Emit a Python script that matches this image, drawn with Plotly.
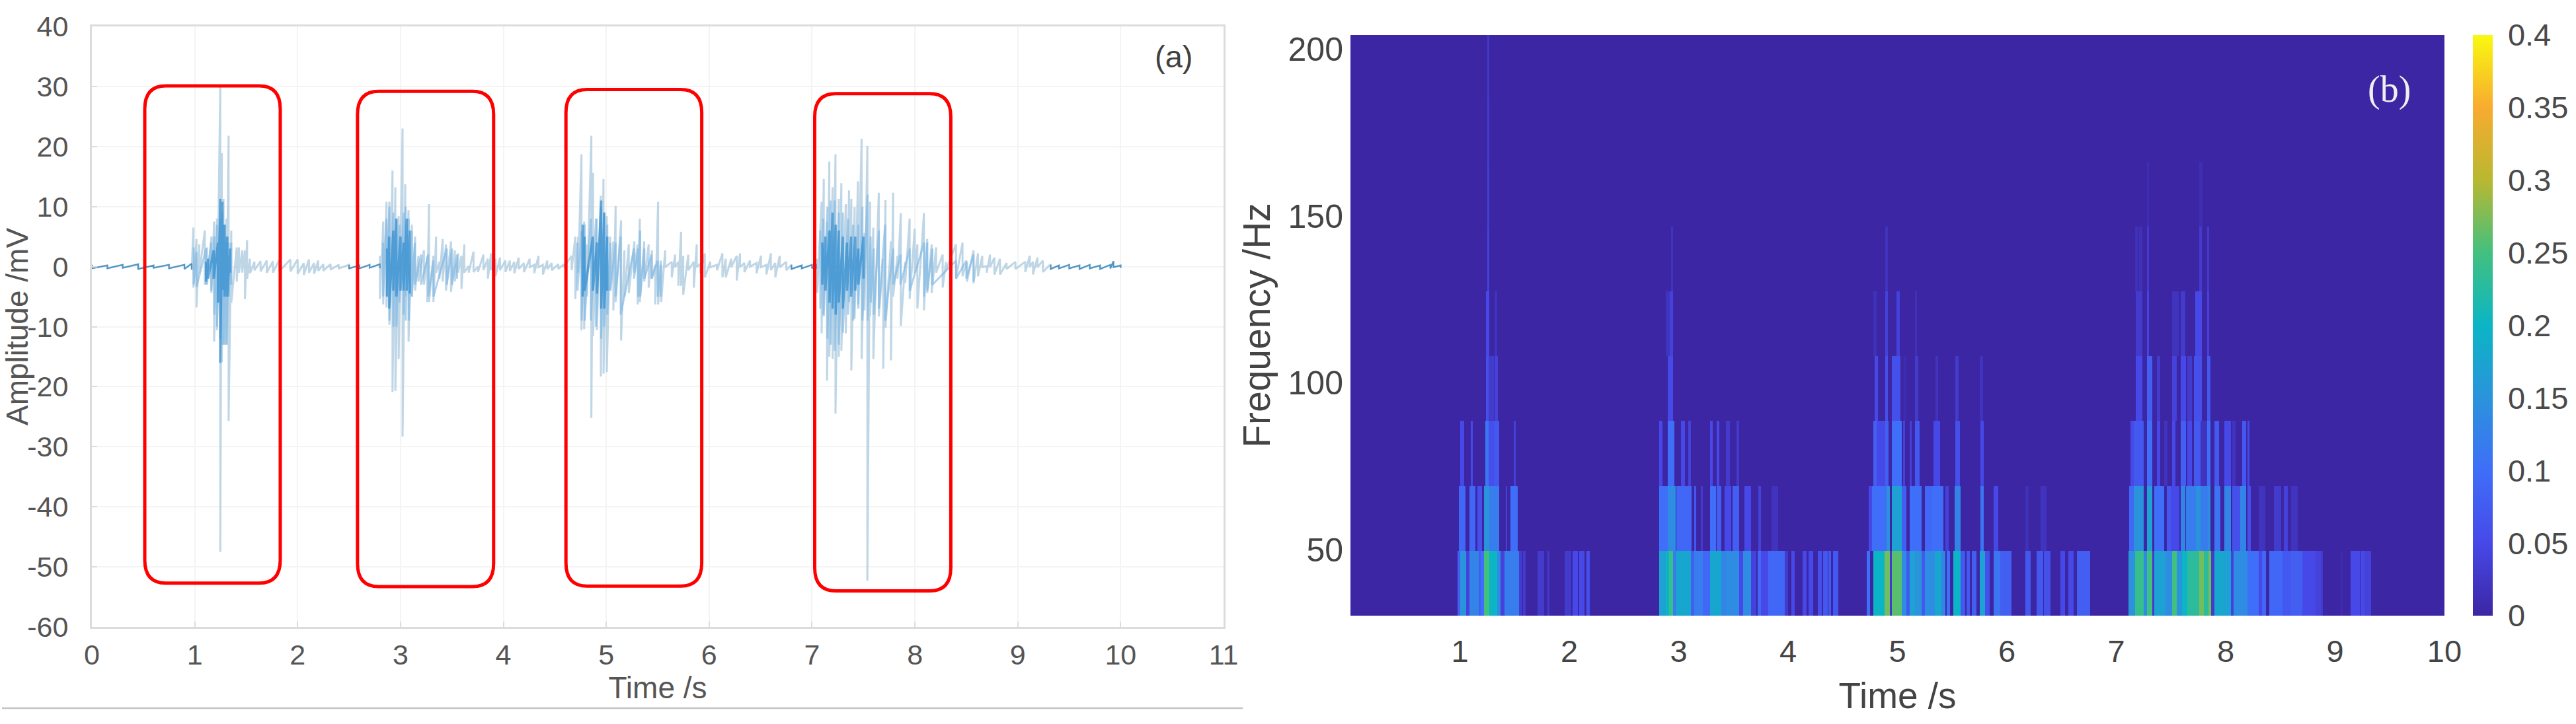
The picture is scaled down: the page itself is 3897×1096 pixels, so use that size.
import numpy as np
import plotly.graph_objects as go
from plotly.subplots import make_subplots

W = 3897
H = 1096

# ---- panel (a), waveform: (time s, upper mV, lower mV)
quiet_start = [(0.0, 0.3, -0.3), (0.15, 0.2, -0.3), (0.3, 0.3, -0.2), (0.45, 0.4, -0.4), (0.6, 0.2, -0.2),
               (0.75, 0.3, -0.3), (0.9, 0.3, -0.4), (0.97, 0.5, -0.5)]
quiet_mid1 = [(2.5, 0.3, -0.3), (2.6, 0.2, -0.3), (2.7, 0.3, -0.2), (2.8, 0.4, -0.3)]
quiet_mid2 = [(6.8, 0.3, -0.4), (6.9, 0.2, -0.3), (7.0, 0.3, -0.3), (7.04, 0.4, -0.4)]
quiet_end = [(9.32, 0.3, -0.4), (9.4, 0.2, -0.3), (9.5, 0.3, -0.3), (9.6, 0.2, -0.4), (9.7, 0.3, -0.3),
             (9.8, 0.2, -0.4), (9.9, 0.3, -0.3), (9.93, 0.9, -0.1), (10.0, 0.2, -0.2)]

wave_a = [
    (0.987, 6.5, -3.5), (1.017, 4.6, -6.8), (1.044, 3.7, -1.1), (1.098, 6.0, -3.0), (1.119, 3.2, -3.0),
    (1.162, 5.0, -4.4), (1.188, 7.5, -12.5), (1.216, 8.0, -10.6), (1.248, 30.0, -47.5), (1.263, 18.9, -15.9),
    (1.28, 11.3, -13.0), (1.308, 8.0, -13.0), (1.329, 21.8, -25.7), (1.355, 6.0, -6.0), (1.408, 3.2, -2.5),
    (1.43, 3.2, -1.0), (1.462, 2.7, -1.0), (1.488, 2.7, -5.4), (1.509, 4.4, -2.0), (1.537, 1.3, -1.1),
    (1.58, 0.8, -0.6), (1.64, 0.9, -0.8), (1.7, 1.0, -1.0), (1.76, 0.9, -1.0), (1.82, 1.1, -0.8),
    (1.93, 1.2, -0.8), (2.0, 1.2, -1.2), (2.06, 0.6, -1.4), (2.11, 1.2, -1.0), (2.16, 0.6, -1.2),
    (2.2, 1.0, -0.7), (2.25, 0.4, -0.7), (2.32, 0.4, -0.5), (2.4, 0.3, -0.3),
]
wave_b = [
    (2.8, 1.8, -5.4), (2.832, 7.5, -6.3), (2.864, 10.8, -6.8), (2.892, 10.8, -9.7), (2.922, 16.0, -20.9),
    (2.95, 13.2, -20.7), (2.982, 8.4, -15.4), (3.02, 23.0, -28.3), (3.046, 13.7, -5.0), (3.078, 9.4, -12.5),
    (3.11, 7.0, -5.0), (3.142, 5.0, -4.0), (3.174, 1.8, -2.5), (3.228, 2.7, -3.0), (3.26, 1.8, -5.9),
    (3.277, 10.4, -5.9), (3.32, 1.8, -5.9), (3.346, 5.0, -1.0), (3.378, 0.8, -2.0), (3.41, 4.6, -2.5),
    (3.442, 3.7, -4.0), (3.491, 4.2, -4.2), (3.528, 2.7, -2.5), (3.56, 2.2, -1.0), (3.592, 1.8, -3.7),
    (3.62, 3.7, -1.0), (3.663, 0.1, -1.0), (3.71, 2.5, -0.9), (3.753, 0.0, -0.9), (3.806, 2.0, -0.6),
    (3.849, 1.3, -2.0), (3.88, 2.2, -0.6), (3.924, 1.3, -1.6), (3.967, 1.5, -0.6), (4.02, 1.0, -0.9),
    (4.063, 1.0, -0.7), (4.106, 0.8, -1.1), (4.149, 1.5, -0.4), (4.2, 0.6, -0.9), (4.256, 1.3, -0.1),
    (4.3, 0.3, -1.1), (4.341, 1.8, -0.1), (4.384, 0.3, -1.3), (4.427, 1.0, -0.4), (4.47, 0.6, -0.6),
    (4.534, 0.4, -0.4), (4.588, 0.4, -0.1),
]
wave_c = [
    (4.663, 1.8, -0.6), (4.699, 5.0, -5.4), (4.727, 5.0, -1.0), (4.759, 18.7, -10.6), (4.785, 7.5, -10.4),
    (4.812, 3.7, -5.0), (4.855, 21.8, -25.2), (4.872, 15.6, -11.6), (4.909, 8.0, -10.6), (4.947, 11.8, -18.3),
    (4.973, 14.6, -17.8), (5.005, 8.4, -17.6), (5.037, 5.0, -4.0), (5.069, 4.2, -7.3), (5.091, 10.1, -5.9),
    (5.144, 7.7, -12.3), (5.176, 2.7, -5.0), (5.219, 3.7, -4.4), (5.273, 4.2, -1.0), (5.305, 3.7, -6.3),
    (5.326, 8.0, -5.9), (5.369, 4.2, -2.5), (5.412, 3.7, -3.5), (5.444, 2.7, -2.0), (5.476, 0.3, -6.3),
    (5.504, 10.8, -6.3), (5.534, 0.3, -5.9), (5.572, 2.7, -0.1), (5.637, 0.8, -1.8), (5.669, 2.0, -0.1),
    (5.701, 0.8, -3.2), (5.727, 5.8, -3.2), (5.748, 1.8, -4.7), (5.797, 2.0, -0.6), (5.851, 0.8, -3.5),
    (5.879, 3.7, -0.1), (5.915, 0.5, -1.1), (5.958, 2.2, -1.8), (6.011, 0.8, -0.1), (6.076, 0.3, -0.6),
    (6.129, 2.2, -1.8), (6.161, 1.3, -1.8), (6.215, 1.3, -0.1), (6.268, 1.8, -2.3), (6.3, 2.2, -0.1),
    (6.343, 0.6, -0.9), (6.397, 1.0, 0.0), (6.461, 0.6, -1.1), (6.504, 1.8, -0.1), (6.557, 0.3, -1.3),
    (6.6, 2.2, -0.6), (6.643, 0.6, -1.8), (6.686, 1.8, -0.1), (6.75, 0.8, -0.6),
]
wave_d = [
    (7.05, 1.3, -4.4), (7.093, 10.8, -11.1), (7.114, 14.6, -8.3), (7.146, 7.5, -19.0), (7.168, 17.5, -15.0),
    (7.2, 13.2, -15.4), (7.228, 18.7, -24.5), (7.26, 11.3, -15.0), (7.285, 13.9, -14.0), (7.328, 10.4, -11.1),
    (7.36, 12.7, -5.9), (7.382, 11.3, -17.3), (7.414, 9.9, -8.7), (7.446, 14.2, -6.3), (7.482, 21.3, -15.4),
    (7.51, 5.6, -7.3), (7.538, 20.1, -52.3), (7.564, 10.8, -8.3), (7.596, 6.5, -15.4), (7.649, 12.3, -8.3),
    (7.692, 1.3, -17.0), (7.714, 11.1, -10.2), (7.767, 4.2, -15.6), (7.788, 12.3, -5.0), (7.831, 1.8, -2.0),
    (7.863, 8.9, -9.9), (7.906, 0.8, -2.7), (7.949, 8.0, -5.4), (7.998, 6.3, -1.0), (8.024, 3.7, -7.0),
    (8.088, 8.9, -7.3), (8.12, 4.6, -4.4), (8.163, 3.7, -4.4), (8.206, 3.2, -1.0), (8.27, 2.0, -3.5),
    (8.302, 0.8, -0.6), (8.399, 3.7, -2.0), (8.463, 4.0, -1.6), (8.506, 0.8, -2.5), (8.57, 2.7, -2.8),
    (8.613, 2.2, -1.6), (8.655, 1.8, -0.1), (8.698, 0.1, -1.0), (8.73, 2.0, -0.1), (8.773, 1.5, -1.3),
    (8.827, 1.3, -1.3), (8.891, 0.6, -0.4), (8.977, 0.8, -0.4), (9.073, 0.8, -0.9), (9.116, 1.8, -0.1),
    (9.148, 0.8, -1.3), (9.191, 1.5, -0.1), (9.244, 1.0, -0.9), (9.319, 0.4, -0.3),
]

# the mid blue part of each burst
mid_a = [(0.99, 3.2, -3.0), (1.017, 2.5, -3.4), (1.11, 3.0, -3.0), (1.16, 4.0, -4.0), (1.19, 5.0, -8.0),
         (1.216, 7.0, -10.0), (1.248, 8.0, -12.0), (1.27, 9.0, -13.0), (1.29, 7.0, -13.0), (1.31, 5.0, -13.0),
         (1.33, 4.0, -5.0), (1.355, 4.0, -3.0)]
mid_b = [(2.83, 4.0, -5.0), (2.864, 8.0, -5.0), (2.892, 10.0, -9.0), (2.93, 9.0, -10.0), (2.96, 8.0, -10.0),
         (2.99, 7.0, -6.0), (3.03, 9.0, -8.0), (3.05, 10.0, -9.0), (3.08, 8.0, -9.0), (3.11, 6.0, -5.0),
         (3.14, 4.0, -3.0), (3.2, 2.0, -3.0), (3.27, 2.0, -5.0), (3.32, 1.0, -5.0), (3.45, 3.0, -3.0),
         (3.5, 3.0, -3.0), (3.55, 2.0, -2.0)]
mid_c = [(4.72, 4.0, -4.0), (4.76, 6.0, -9.0), (4.79, 7.0, -9.0), (4.85, 8.0, -9.0), (4.9, 8.0, -10.0),
         (4.95, 10.0, -12.0), (4.98, 9.0, -10.0), (5.01, 7.0, -8.0), (5.04, 4.0, -4.0), (5.09, 4.0, -5.0),
         (5.14, 5.0, -8.0), (5.27, 3.0, -2.0), (5.31, 3.0, -5.0), (5.33, 6.0, -5.0), (5.37, 3.0, -2.0),
         (5.44, 2.0, -2.0), (5.5, 1.0, -5.0), (5.53, 1.0, -5.0)]
mid_d = [(7.08, 6.0, -7.0), (7.11, 8.0, -8.0), (7.15, 10.0, -12.0), (7.18, 11.0, -13.0), (7.22, 11.0, -14.0),
         (7.26, 9.0, -13.0), (7.3, 9.0, -11.0), (7.35, 8.0, -8.0), (7.4, 7.0, -9.0), (7.45, 7.0, -7.0),
         (7.49, 10.0, -9.0), (7.54, 12.0, -9.0), (7.57, 5.0, -6.0), (7.6, 3.0, -8.0), (7.65, 6.0, -7.0),
         (7.71, 7.0, -9.0), (7.79, 3.0, -3.0), (7.86, 2.0, -3.0), (7.95, 3.0, -4.0), (8.09, 4.0, -5.0),
         (8.12, 4.0, -4.0), (8.17, 3.0, -3.0), (8.4, 1.0, -2.0), (8.5, 1.0, -2.0), (8.57, 2.0, -2.5)]

# darkest part of each burst
core_a = [(1.109, 0.8, -2.5), (1.13, 1.3, -2.0), (1.184, 2.7, -2.0), (1.226, 4.0, -6.0), (1.248, 11.3, -16.0),
          (1.269, 10.8, -3.9), (1.29, 7.0, -5.0), (1.316, 5.0, -5.0), (1.344, 3.0, -1.0)]
core_b = [(2.87, 3.0, -5.0), (2.89, 5.0, -7.0), (2.93, 6.0, -4.0), (2.96, 8.0, -5.0), (3.0, 5.0, -4.0),
          (3.03, 4.0, -4.0), (3.06, 8.0, -4.0), (3.09, 6.0, -4.5)]
core_c = [(4.77, 7.0, -5.0), (4.79, 5.0, -4.0), (4.87, 5.0, -4.0), (4.91, 4.0, -4.5), (4.95, 11.0, -7.0),
          (4.98, 9.0, -7.0), (5.01, 5.0, -4.0)]
core_d = [(7.1, 4.0, -3.0), (7.13, 5.0, -4.0), (7.17, 6.0, -6.0), (7.2, 9.0, -7.0), (7.23, 7.0, -8.0),
          (7.26, 6.0, -6.0), (7.3, 5.0, -7.0), (7.34, 4.0, -4.0), (7.38, 5.0, -5.0), (7.42, 5.0, -4.0),
          (7.45, 3.0, -3.0), (7.5, 5.0, -2.0)]

# red boxes: t0, t1, upper mV, lower mV
boxes = [(0.514, 1.831, 30.1, -52.7), (2.582, 3.905, 29.2, -53.3),
         (4.608, 5.928, 29.5, -53.2), (7.026, 8.349, 28.8, -54.0)]

# ---- panel (b), spectrogram: (t0, t1, power) per frequency row, lowest row first
freq_edges = [30.2, 49.65, 69.1, 88.55, 108.0, 127.45, 146.9, 166.35, 185.8, 204.3]

row0 = [
    (0.98, 1.0, .08), (1.0, 1.06, .15), (1.06, 1.09, .04), (1.09, 1.17, .13), (1.17, 1.19, .08), (1.19, 1.22, .1),
    (1.22, 1.27, .25), (1.27, 1.34, .2), (1.34, 1.37, .14), (1.37, 1.41, .04), (1.41, 1.54, .12), (1.54, 1.57, .03),
    (1.58, 1.6, .03), (1.71, 1.77, .03), (1.8, 1.82, .03), (1.96, 2.02, .03), (2.03, 2.08, .05), (2.09, 2.14, .05),
    (2.16, 2.19, .06),
    (2.82, 2.88, .17), (2.88, 2.91, .2), (2.91, 2.95, .24), (2.95, 2.98, .12), (2.98, 3.11, .18), (3.11, 3.14, .08),
    (3.14, 3.22, .12), (3.22, 3.29, .09), (3.29, 3.39, .18), (3.39, 3.43, .13), (3.43, 3.55, .14), (3.55, 3.59, .05),
    (3.59, 3.66, .14), (3.66, 3.71, .04), (3.72, 3.75, .09), (3.75, 3.82, .05), (3.82, 3.97, .09), (3.97, 4.0, .03),
    (4.03, 4.06, .05), (4.13, 4.17, .05), (4.19, 4.23, .05), (4.27, 4.31, .06), (4.32, 4.36, .07), (4.37, 4.39, .07),
    (4.41, 4.46, .07),
    (4.72, 4.75, .1), (4.78, 4.88, .2), (4.88, 4.93, .27), (4.93, 4.95, .03), (4.95, 5.04, .26), (5.04, 5.08, .14),
    (5.08, 5.11, .07), (5.11, 5.16, .17), (5.16, 5.22, .15), (5.22, 5.25, .07), (5.25, 5.34, .14), (5.34, 5.4, .18),
    (5.4, 5.44, .13), (5.45, 5.48, .1), (5.51, 5.58, .2), (5.58, 5.62, .07), (5.63, 5.66, .07), (5.68, 5.72, .08),
    (5.75, 5.8, .17), (5.8, 5.84, .06), (5.88, 5.94, .11), (5.94, 6.04, .08), (6.17, 6.22, .07), (6.27, 6.33, .07),
    (6.34, 6.4, .06), (6.49, 6.53, .05), (6.56, 6.61, .05), (6.64, 6.76, .08),
    (7.11, 7.17, .15), (7.17, 7.25, .24), (7.25, 7.28, .14), (7.28, 7.33, .25), (7.33, 7.35, .03), (7.35, 7.45, .17),
    (7.45, 7.51, .14), (7.51, 7.55, .25), (7.55, 7.6, .15), (7.6, 7.65, .2), (7.65, 7.76, .23), (7.76, 7.8, .27),
    (7.8, 7.84, .23), (7.84, 7.87, .27), (7.87, 7.9, .03), (7.9, 7.98, .18), (7.98, 8.05, .17), (8.05, 8.07, .04),
    (8.07, 8.2, .14), (8.2, 8.3, .1), (8.3, 8.33, .05), (8.33, 8.37, .09), (8.4, 8.52, .09), (8.52, 8.6, .07),
    (8.6, 8.7, .08), (8.7, 8.82, .05), (8.82, 8.87, .04), (8.87, 8.89, .03), (9.05, 9.07, .01), (9.14, 9.23, .05),
    (9.24, 9.27, .05), (9.27, 9.33, .04),
]
row1 = [
    (.99, 1.05, .09), (1.09, 1.14, .09), (1.16, 1.2, .06), (1.22, 1.27, .15), (1.27, 1.36, .12), (1.42, 1.43, .04),
    (1.46, 1.53, .1),
    (2.82, 2.9, .1), (2.9, 2.97, .14), (2.98, 3.12, .09), (3.14, 3.16, .07), (3.2, 3.22, .03), (3.29, 3.34, .1),
    (3.35, 3.39, .08), (3.42, 3.48, .05), (3.49, 3.55, .08), (3.6, 3.66, .05), (3.73, 3.75, .04), (3.85, 3.91, .02),
    (4.74, 4.77, .05), (4.77, 4.9, .1), (4.9, 4.93, .15), (4.95, 5.04, .17), (5.04, 5.08, .08), (5.11, 5.16, .1),
    (5.16, 5.22, .1), (5.25, 5.32, .09), (5.32, 5.42, .1), (5.44, 5.47, .04), (5.52, 5.58, .13), (5.76, 5.79, .11),
    (5.88, 5.92, .05), (6.17, 6.2, .015), (6.31, 6.36, .02),
    (7.12, 7.16, .09), (7.16, 7.25, .15), (7.28, 7.33, .17), (7.35, 7.44, .1), (7.46, 7.5, .07), (7.5, 7.58, .05),
    (7.59, 7.63, .13), (7.64, 7.73, .12), (7.73, 7.77, .15), (7.77, 7.84, .12), (7.84, 7.86, .15), (7.9, 7.95, .11),
    (7.99, 8.05, .13), (8.06, 8.13, .06), (8.13, 8.19, .13), (8.2, 8.23, .06), (8.3, 8.36, .02), (8.44, 8.51, .03),
    (8.53, 8.57, .04), (8.6, 8.66, .02),
]
row2 = [
    (1.0, 1.04, .05), (1.1, 1.12, .05), (1.23, 1.26, .11), (1.26, 1.31, .06), (1.31, 1.36, .07), (1.49, 1.51, .04),
    (2.82, 2.85, .05), (2.9, 2.96, .1), (3.02, 3.06, .05), (3.09, 3.11, .04), (3.29, 3.31, .05), (3.35, 3.37, .05),
    (3.43, 3.47, .03), (3.53, 3.55, .03),
    (4.78, 4.81, .08), (4.81, 4.89, .05), (4.89, 4.92, .08), (4.95, 5.04, .1), (5.05, 5.07, .04), (5.11, 5.13, .04),
    (5.16, 5.2, .07), (5.33, 5.39, .05), (5.53, 5.57, .06), (5.76, 5.79, .05),
    (7.13, 7.16, .05), (7.16, 7.25, .07), (7.28, 7.33, .1), (7.37, 7.4, .05), (7.44, 7.47, .02), (7.51, 7.54, .05),
    (7.59, 7.64, .08), (7.65, 7.69, .05), (7.71, 7.77, .07), (7.77, 7.83, .02), (7.83, 7.86, .1), (7.9, 7.94, .07),
    (7.99, 8.05, .05), (8.06, 8.09, .02), (8.15, 8.19, .07), (8.2, 8.22, .05),
]
row3 = [
    (1.24, 1.26, .06), (1.26, 1.31, .03), (1.32, 1.35, .04), (2.9, 2.95, .05),
    (4.79, 4.82, .05), (4.89, 4.91, .06), (4.95, 5.03, .06), (5.06, 5.08, .01), (5.16, 5.19, .03), (5.35, 5.37, .02),
    (5.53, 5.56, .03), (5.75, 5.78, .02),
    (7.18, 7.24, .05), (7.28, 7.33, .08), (7.37, 7.4, .03), (7.51, 7.55, .04), (7.59, 7.64, .05), (7.65, 7.69, .03),
    (7.71, 7.78, .06), (7.83, 7.86, .07),
]
row4 = [
    (1.24, 1.27, .05), (1.32, 1.34, .02), (2.88, 2.92, .02), (2.92, 2.95, .04),
    (4.78, 4.81, .015), (4.89, 4.91, .04), (4.99, 5.02, .04), (5.16, 5.18, .015),
    (7.18, 7.24, .03), (7.28, 7.3, .045), (7.51, 7.57, .02), (7.59, 7.63, .03), (7.72, 7.78, .05), (7.83, 7.85, .04),
]
row5 = [
    (1.25, 1.27, .04), (2.93, 2.95, .02), (4.89, 4.91, .02),
    (7.17, 7.2, .015), (7.21, 7.24, .015), (7.28, 7.3, .03), (7.76, 7.78, .03), (7.83, 7.85, .03),
]
row6 = [(1.25, 1.27, .035), (7.28, 7.3, .012), (7.76, 7.79, .012)]
row7 = [(1.25, 1.27, .03)]
row8 = [(1.25, 1.27, .025)]
spec_rows = [row0, row1, row2, row3, row4, row5, row6, row7, row8]

parula = [[0.0, "#3c26a3"], [0.125, "#4649e8"], [0.25, "#3f6ef8"], [0.375, "#2a93dc"], [0.5, "#0bb5c5"],
          [0.625, "#42c07f"], [0.75, "#b9b830"], [0.875, "#f8ab30"], [1.0, "#f9f90f"]]


def zigzag(*parts):
    xs, ys = [], []
    for part in parts:
        for t, hi, lo in part:
            xs += [t, t]
            ys += [hi, lo]
        xs.append(None)
        ys.append(None)
    return xs, ys


t_edges = np.arange(0, 1001) / 100
z = np.zeros((len(spec_rows), 1000))
for i, row in enumerate(spec_rows):
    for t0, t1, val in row:
        z[i, round(t0 * 100):round(t1 * 100)] = val

fig = make_subplots(rows=1, cols=2)

xs, ys = zigzag(quiet_start + wave_a + quiet_mid1 + wave_b + wave_c + quiet_mid2 + wave_d + quiet_end)
fig.add_trace(go.Scatter(x=xs, y=ys, mode="lines", line=dict(color="rgba(170,200,222,0.75)", width=3)), row=1, col=1)
xs, ys = zigzag(mid_a, mid_b, mid_c, mid_d)
fig.add_trace(go.Scatter(x=xs, y=ys, mode="lines", line=dict(color="rgba(120,180,228,0.6)", width=3)), row=1, col=1)
xs, ys = zigzag(core_a, core_b, core_c, core_d)
fig.add_trace(go.Scatter(x=xs, y=ys, mode="lines", line=dict(color="rgba(40,135,205,0.65)", width=3.5)), row=1, col=1)
xs, ys = zigzag(quiet_start, quiet_mid1, quiet_mid2, quiet_end)
fig.add_trace(go.Scatter(x=xs, y=ys, mode="lines", line=dict(color="#4d93c4", width=2)), row=1, col=1)

fig.add_trace(go.Heatmap(
    x=t_edges, y=freq_edges, z=z, zmin=0, zmax=0.4, colorscale=parula,
    colorbar=dict(
        x=3741 / W, xanchor="left", y=1 - 932 / H, yanchor="bottom", len=879 / H, thickness=30,
        outlinewidth=0, xpad=0, ypad=0, tickmode="array",
        tickvals=[0, 0.05, 0.1, 0.15, 0.2, 0.25, 0.3, 0.35, 0.4],
        ticktext=["0", "0.05", "0.1", "0.15", "0.2", "0.25", "0.3", "0.35", "0.4"],
        ticks="outside", ticklen=14, tickcolor="rgba(0,0,0,0)",
        tickfont=dict(family="Liberation Sans", size=47, color="#4a4a4a"),
    ),
), row=1, col=2)

grey = "#555555"
a_font = dict(family="Liberation Sans", size=43, color=grey)
fig.update_xaxes(
    domain=[139 / W, 1851 / W], range=[0, 11], tickmode="array", tickvals=list(range(12)), automargin=False,
    showgrid=True, gridcolor="#f4f4f4", gridwidth=2, zeroline=False, showline=True, mirror=True,
    linecolor="#dcdcdc", linewidth=3, ticks="inside", ticklen=8, tickcolor="#dcdcdc", tickwidth=2,
    tickfont=a_font, ticklabelstandoff=2,
    title=dict(text="Time /s", font=dict(family="Liberation Sans", size=46, color=grey), standoff=2),
    row=1, col=1,
)
fig.update_yaxes(
    domain=[1 - 949 / H, 1 - 40 / H], range=[-60, 40], tickmode="array", tickvals=list(range(-60, 41, 10)),
    ticktext=[str(v) for v in range(-60, 41, 10)], automargin=False,
    showgrid=True, gridcolor="#f4f4f4", gridwidth=2, zeroline=False, showline=True, mirror=True,
    linecolor="#dcdcdc", linewidth=3, ticks="inside", ticklen=8, tickcolor="#dcdcdc", tickwidth=2,
    tickfont=a_font, ticklabelstandoff=24,
    title=dict(text="Amplitude /mV", font=dict(family="Liberation Sans", size=46, color=grey), standoff=0),
    row=1, col=1,
)
fig.update_xaxes(
    domain=[2043 / W, 3698 / W], range=[0, 10], tickmode="array", tickvals=list(range(1, 11)), automargin=False,
    showgrid=False, zeroline=False, ticks="", showline=False,
    tickfont=dict(family="Liberation Sans", size=47, color="#444444"), ticklabelstandoff=22,
    title=dict(text="Time /s", font=dict(family="Liberation Sans", size=55, color="#444444"), standoff=22),
    row=1, col=2,
)
fig.update_yaxes(
    domain=[1 - 932 / H, 1 - 53 / H], range=[30.2, 204.3], tickmode="array", tickvals=[50, 100, 150, 200],
    automargin=False, showgrid=False, zeroline=False, ticks="", showline=False,
    tickfont=dict(family="Liberation Sans", size=50, color="#444444"), ticklabelstandoff=10,
    title=dict(text="Frequency /Hz", font=dict(family="Liberation Sans", size=57, color="#444444"), standoff=8),
    row=1, col=2,
)

# rounded red boxes
rx, ry = 0.205, 3.85
for t0, t1, top, bottom in boxes:
    path = (f"M {t0 + rx} {top} L {t1 - rx} {top} Q {t1} {top} {t1} {top - ry} "
            f"L {t1} {bottom + ry} Q {t1} {bottom} {t1 - rx} {bottom} "
            f"L {t0 + rx} {bottom} Q {t0} {bottom} {t0} {bottom + ry} "
            f"L {t0} {top - ry} Q {t0} {top} {t0 + rx} {top} Z")
    fig.add_shape(type="path", path=path, xref="x", yref="y", line=dict(color="#ff0000", width=5))

# rule under panel (a)
fig.add_shape(type="line", xref="paper", yref="paper", x0=3 / W, x1=1880 / W, y0=1 - 1072 / H, y1=1 - 1072 / H,
              line=dict(color="#c4c4c4", width=2.5))

fig.add_annotation(text="(a)", xref="paper", yref="paper", x=1775 / W, y=1 - 85 / H, showarrow=False,
                   xanchor="center", yanchor="middle",
                   font=dict(family="Liberation Sans", size=47, color="#404040"))
fig.add_annotation(text="(b)", xref="paper", yref="paper", x=3614 / W, y=1 - 135 / H, showarrow=False,
                   xanchor="center", yanchor="middle",
                   font=dict(family="Liberation Serif", size=56, color="#f0f0f0"))

fig.update_layout(
    width=W, height=H, autosize=False, margin=dict(l=0, r=0, t=0, b=0),
    paper_bgcolor="white", plot_bgcolor="white", showlegend=False,
)
# default page has an 8px body margin
fig.write_html("out.html", config={"displayModeBar": False}, post_script="document.body.style.margin='0';")
